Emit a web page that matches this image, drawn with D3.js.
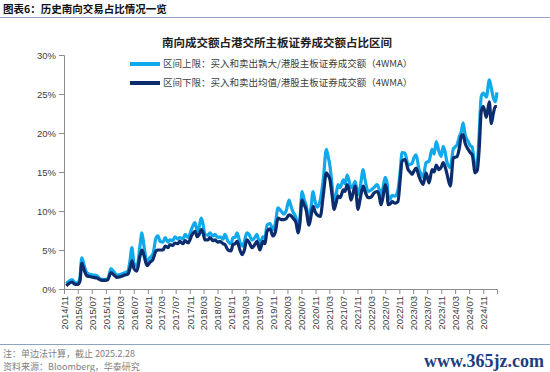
<!DOCTYPE html>
<meta charset="utf-8">
<style>
  body { margin: 0; background: #fff; }
  svg { font-family: "Liberation Sans", Arial, sans-serif; }
  .cjk { font-family: "Noto Sans CJK SC", sans-serif; }
</style>
<script src="https://d3js.org/d3.v7.min.js"></script>
<div id="chart"></div>
<script>
var dates = [
  "2014-11-21","2014-12-05","2015-01-10","2015-02-05","2015-03-01","2015-03-20","2015-04-05","2015-04-22",
  "2015-05-18","2015-06-12","2015-07-10","2015-08-15","2015-09-10","2015-10-15","2015-11-18","2015-12-15",
  "2016-01-10","2016-02-05","2016-03-10","2016-04-15","2016-05-10","2016-05-28","2016-06-15","2016-07-03",
  "2016-07-28","2016-08-24","2016-09-10","2016-09-28","2016-10-24","2016-11-18","2016-12-15","2017-01-12",
  "2017-01-28","2017-02-15","2017-03-12","2017-04-01","2017-04-25","2017-05-12","2017-06-06","2017-06-25",
  "2017-07-21","2017-08-06","2017-09-03","2017-09-22","2017-10-17","2017-11-22","2017-12-17","2018-01-05",
  "2018-01-22","2018-02-09","2018-02-25","2018-03-13","2018-04-09","2018-04-25","2018-05-22","2018-06-09",
  "2018-07-03","2018-07-21","2018-08-18","2018-09-03","2018-09-30","2018-10-27","2018-11-12","2018-12-01",
  "2018-12-18","2019-01-12","2019-02-01","2019-02-18","2019-03-13","2019-04-01","2019-04-27","2019-05-22",
  "2019-06-09","2019-07-05","2019-07-31","2019-08-18","2019-09-05","2019-10-01","2019-10-27","2019-11-15",
  "2019-12-10","2020-01-05","2020-02-01","2020-02-18","2020-03-15","2020-04-01","2020-04-18","2020-05-15",
  "2020-06-01","2020-06-18","2020-07-06","2020-07-24","2020-08-10","2020-09-05","2020-09-23","2020-10-10",
  "2020-10-28","2020-11-15","2020-12-12","2021-01-07","2021-02-03","2021-02-18","2021-03-07","2021-03-25",
  "2021-04-12","2021-04-28","2021-05-16","2021-06-03","2021-07-01","2021-07-16","2021-08-03","2021-08-21",
  "2021-09-06","2021-09-24","2021-10-12","2021-11-06","2021-11-24","2021-12-21","2022-01-06","2022-02-03",
  "2022-03-01","2022-03-25","2022-04-21","2022-05-09","2022-05-25","2022-06-12","2022-07-01","2022-07-18",
  "2022-07-25","2022-08-12","2022-08-30","2022-09-25","2022-10-20","2022-11-08","2022-11-25","2022-12-20",
  "2023-01-17","2023-02-03","2023-02-20","2023-03-08","2023-03-27","2023-04-22","2023-05-09","2023-05-27",
  "2023-06-22","2023-07-18","2023-08-13","2023-09-01","2023-09-18","2023-10-13","2023-11-01","2023-11-18",
  "2023-12-06","2023-12-22","2024-01-19","2024-02-15","2024-03-01","2024-03-18","2024-04-06","2024-04-24",
  "2024-05-10","2024-05-27","2024-06-23","2024-07-10","2024-07-28","2024-08-23","2024-09-10","2024-09-27",
  "2024-10-15","2024-11-03","2024-11-28","2024-12-24","2025-01-10","2025-01-28","2025-02-14","2025-02-28"
];
// 区间上限 (%)
var upper = [
  0.7,0.9,1.2,0.8,0.8,1.5,4.0,3.2,
  2.1,1.9,1.8,1.7,1.3,1.2,1.3,2.6,
  2.2,1.8,1.9,2.1,2.3,3.5,5.3,3.3,
  2.9,5.5,7.2,5.5,3.5,4.0,4.5,6.6,
  6.8,6.1,6.0,6.6,6.0,6.3,6.2,6.7,
  6.4,6.6,6.4,7.0,6.6,7.9,8.5,7.4,
  8.0,9.1,8.3,7.0,6.9,7.2,6.8,7.0,
  6.6,6.7,6.4,7.0,6.1,5.8,6.6,6.6,
  7.2,6.0,5.5,6.0,7.2,7.0,6.3,6.6,
  7.0,5.7,6.7,6.5,8.2,8.4,7.6,8.3,
  10.4,10.0,9.6,10.0,11.4,10.6,9.9,9.1,
  7.9,9.0,12.5,11.5,10.8,9.0,10.5,12.5,
  11.2,10.5,11.4,14.0,17.9,17.0,15.7,13.2,
  11.0,12.0,13.4,13.0,14.0,13.5,14.6,13.8,
  13.0,13.2,13.8,12.1,13.0,15.3,14.0,12.5,
  12.7,13.0,13.4,12.8,11.9,13.0,14.3,13.5,
  12.1,11.5,12.0,11.9,12.7,15.0,17.5,17.4,
  15.9,16.0,16.1,16.8,17.2,15.3,14.8,14.3,
  16.2,16.4,17.9,17.3,18.9,17.6,17.0,18.3,
  17.5,16.2,15.6,18.0,18.2,18.5,19.5,20.2,
  21.3,19.8,18.9,18.4,18.2,15.7,16.2,20.0,
  24.7,25.1,24.6,26.8,25.8,24.5,24.0,25.2
];
// 区间下限 (%)
var lower = [
  0.4,0.6,0.9,0.6,0.6,1.0,3.3,2.6,
  1.7,1.6,1.5,1.4,1.2,1.1,1.2,2.1,
  1.8,1.5,1.6,1.8,1.9,2.6,3.6,2.6,
  2.3,4.2,5.0,4.3,3.0,3.4,3.8,4.9,
  5.0,5.0,5.0,5.5,5.3,5.7,5.6,5.9,
  5.8,6.1,5.8,6.2,5.9,7.0,7.4,6.7,
  7.0,7.6,7.2,6.3,6.3,6.6,6.2,6.3,
  6.0,6.1,5.8,5.7,5.0,4.9,5.7,5.8,
  6.1,5.0,4.4,4.9,6.3,6.0,5.3,5.7,
  6.1,5.0,6.1,5.8,7.4,7.7,6.8,7.2,
  9.1,8.9,8.9,9.0,9.5,9.4,9.1,8.5,
  7.2,8.5,11.4,10.8,10.2,8.2,9.4,10.6,
  9.9,9.5,9.3,12.0,14.9,14.6,14.0,12.0,
  10.2,11.0,11.9,11.7,12.7,12.5,13.4,12.6,
  11.4,12.3,13.2,10.2,11.5,13.2,12.5,11.7,
  11.8,12.3,12.5,12.0,10.8,11.8,13.4,12.3,
  10.8,10.9,11.2,11.0,11.2,14.0,16.4,16.6,
  15.3,15.0,14.7,15.1,15.5,14.4,13.8,13.4,
  14.9,13.6,15.3,15.0,15.9,15.3,15.6,16.2,
  15.6,14.7,13.2,16.8,16.9,17.0,18.0,19.6,
  19.8,18.7,17.9,17.5,17.2,14.9,15.2,18.0,
  22.8,23.4,22.0,24.0,21.2,22.5,23.4,23.4
];
var tickLabels = [
  "2014/11","2015/03","2015/07","2015/11","2016/03","2016/07","2016/11","2017/03",
  "2017/07","2017/11","2018/03","2018/07","2018/11","2019/03","2019/07","2019/11",
  "2020/03","2020/07","2020/11","2021/03","2021/07","2021/11","2022/03","2022/07",
  "2022/11","2023/03","2023/07","2023/11","2024/03","2024/07","2024/11"
];
var yTicks = [0, 5, 10, 15, 20, 25, 30];
var seriesNames = [
  "区间上限：买入和卖出孰大/港股主板证券成交额（4WMA）",
  "区间下限：买入和卖出均值/港股主板证券成交额（4WMA）"
];
var colors = ["#0fa9ec", "#0b2d6e"];

var width = 550, height = 372;
var margin = {top: 55, right: 53, bottom: 83, left: 64};

var parseDay = d3.timeParse("%Y-%m-%d"),
    parseMonth = d3.timeParse("%Y/%m");

var rows = dates.map(function(d, i) {
  return {date: parseDay(d), upper: upper[i], lower: lower[i]};
});

var svg = d3.select("#chart").append("svg")
  .attr("width", width)
  .attr("height", height);

var x = d3.scaleTime()
  .domain([new Date(2014, 10, 1), new Date(2025, 2, 1)])
  .range([margin.left, width - margin.right]);

var y = d3.scaleLinear()
  .domain([0, 30])
  .range([height - margin.bottom, margin.top]);

// header
svg.append("text")
  .attr("class", "cjk")
  .attr("x", 3).attr("y", 13)
  .attr("font-size", 10.5).attr("font-weight", "bold").attr("fill", "#111")
  .text("图表6：历史南向交易占比情况一览");
svg.append("line")
  .attr("x1", 0).attr("x2", width).attr("y1", 17.5).attr("y2", 17.5)
  .attr("stroke", "#8ea3bf").attr("stroke-width", 1);

// chart title
svg.append("text")
  .attr("class", "cjk")
  .attr("x", 277).attr("y", 47)
  .attr("text-anchor", "middle")
  .attr("font-size", 11.5).attr("font-weight", "bold").attr("fill", "#222")
  .text("南向成交额占港交所主板证券成交额占比区间");

// axes
var yAxis = svg.append("g")
  .attr("transform", "translate(" + margin.left + ",0)")
  .call(d3.axisLeft(y).tickValues(yTicks).tickSize(5).tickPadding(3)
    .tickFormat(function(d) { return d + "%"; }));

var xAxis = svg.append("g")
  .attr("transform", "translate(0," + y(0) + ")")
  .call(d3.axisBottom(x).tickValues(tickLabels.map(parseMonth)).tickSize(5)
    .tickFormat(d3.timeFormat("%Y/%m")));

xAxis.selectAll("text")
  .attr("text-anchor", "end")
  .attr("transform", "translate(0,7) rotate(-90)")
  .attr("dy", "0.35em").attr("y", 0).attr("x", 0);

[xAxis, yAxis].forEach(function(g) {
  g.select(".domain").attr("stroke", "#8c8c8c");
  g.selectAll(".tick line").attr("stroke", "#8c8c8c");
  g.selectAll("text").attr("fill", "#404040").attr("font-size", 9.5)
    .attr("font-family", "'Liberation Sans', Arial, sans-serif");
});

// lines
var keys = ["upper", "lower"];
keys.forEach(function(k, i) {
  var line = d3.line()
    .x(function(d) { return x(d.date); })
    .y(function(d) { return y(d[k]); })
    .curve(d3.curveMonotoneX);
  svg.append("path")
    .datum(rows)
    .attr("fill", "none")
    .attr("stroke", colors[i])
    .attr("stroke-width", 3.2)
    .attr("stroke-linejoin", "round")
    .attr("d", line);
});

// legend
var legend = svg.append("g").attr("transform", "translate(130,64)");
seriesNames.forEach(function(name, i) {
  var g = legend.append("g").attr("transform", "translate(0," + (i * 19) + ")");
  g.append("line")
    .attr("x1", 0).attr("x2", 30)
    .attr("stroke", colors[i]).attr("stroke-width", 4);
  g.append("text")
    .attr("class", "cjk")
    .attr("x", 33).attr("dy", "0.35em")
    .attr("font-size", 9.5).attr("fill", "#404040")
    .text(name);
});

// footer
svg.append("line")
  .attr("x1", 0).attr("x2", width).attr("y1", 344.5).attr("y2", 344.5)
  .attr("stroke", "#8ea3bf").attr("stroke-width", 1);
svg.append("text")
  .attr("class", "cjk")
  .attr("x", 3).attr("y", 357)
  .attr("font-size", 9).attr("fill", "#808080")
  .text("注：单边法计算，截止 2025.2.28");
svg.append("text")
  .attr("class", "cjk")
  .attr("x", 3).attr("y", 370)
  .attr("font-size", 9).attr("fill", "#808080")
  .text("资料来源：Bloomberg，华泰研究");
svg.append("text")
  .attr("x", 544).attr("y", 367)
  .attr("text-anchor", "end")
  .attr("font-family", "'Liberation Serif', 'DejaVu Serif', serif")
  .attr("font-size", 18).attr("font-weight", "bold").attr("fill", "#1c3f7f")
  .text("www.365jz.com");
</script>
